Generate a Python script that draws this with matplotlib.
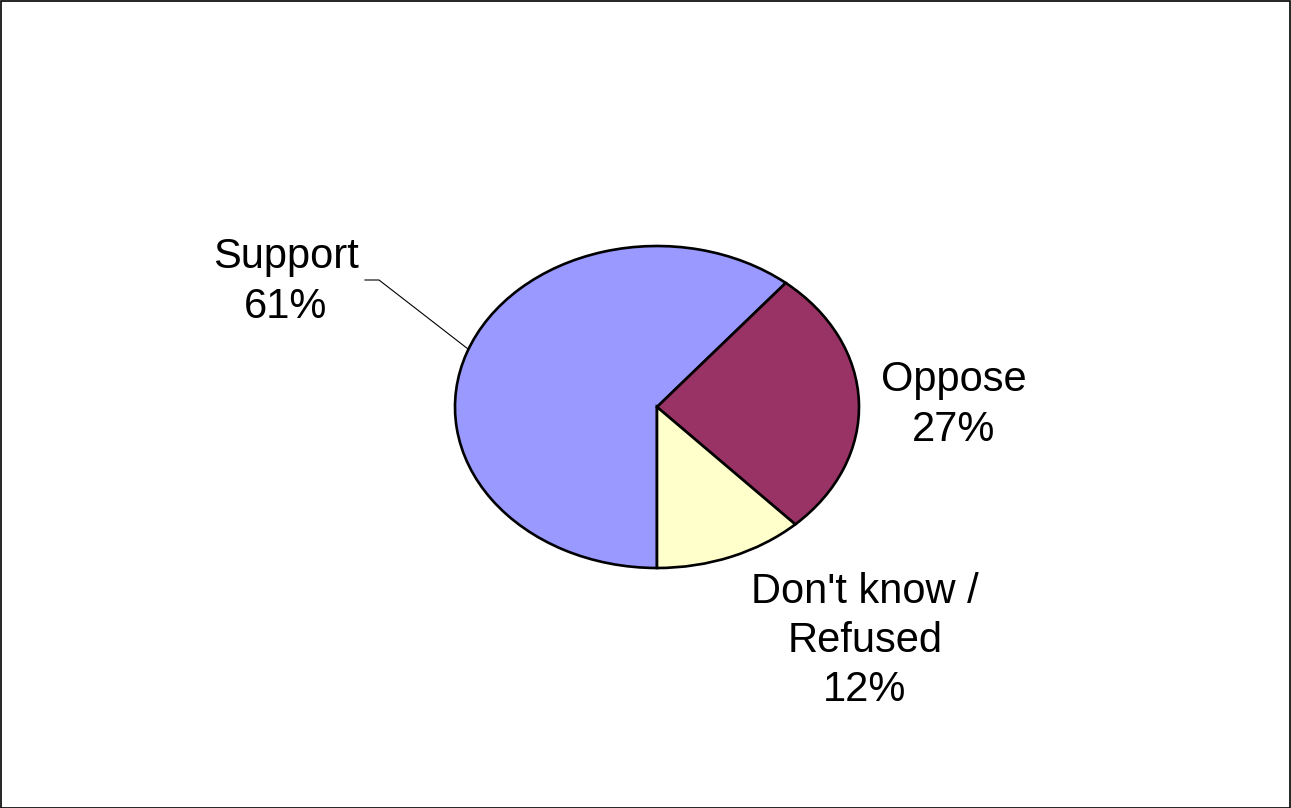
import numpy as np
import matplotlib
matplotlib.use("Agg")
import matplotlib.pyplot as plt
from matplotlib.lines import Line2D
from matplotlib.patches import Rectangle

categories = ["Support", "Oppose", "Don't know /\nRefused"]
values = [61, 27, 12]
colors = ["#9999FF", "#993366", "#FFFFCC"]

W, H = 1291, 808
fig = plt.figure(figsize=(W / 100, H / 100), dpi=100)
plt.rcParams['font.family'] = ['Liberation Sans', 'DejaVu Sans']

# pie bounding box in pixels (top-left origin)
cx, cy, rx, ry = 657, 407, 202, 161
pad = 1.05
ax = fig.add_axes([(cx - rx * pad) / W, (H - cy - ry * pad) / H,
                   2 * rx * pad / W, 2 * ry * pad / H])
wedges, _ = ax.pie(values, colors=colors, startangle=270, counterclock=False,
                   wedgeprops=dict(edgecolor="black", linewidth=1.9))
ax.set_aspect('auto')
ax.set_xlim(-pad, pad)
ax.set_ylim(-pad, pad)
ax.axis('off')

def fpx(x, y):
    return (x / W, (H - y) / H)

fs = 30
labels = [f"{c}\n{v}%" for c, v in zip(categories, values)]
pos = [(286, 282), (954, 405), (865, 641)]
for lab, (x, y) in zip(labels, pos):
    fig.text(*fpx(x, y), lab, ha='center', va='center', fontsize=fs,
             linespacing=1.3, color='black')

# leader line for Support label
ang = np.deg2rad(159)
pt_disp = ax.transData.transform((np.cos(ang), np.sin(ang)))
pt_fig = fig.transFigure.inverted().transform(pt_disp)
x0, y0 = fpx(365, 280)
x1, y1 = fpx(379, 280)
fig.add_artist(Line2D([x0, x1, pt_fig[0]], [y0, y1, pt_fig[1]],
                      color='black', linewidth=0.8, transform=fig.transFigure))

# outer border
fig.add_artist(Rectangle((0.5 / W, 0.5 / H), 1 - 1.5 / W, 1 - 1.5 / H,
                         fill=False, edgecolor='black', linewidth=1.2,
                         transform=fig.transFigure))

fig.savefig("out.png", dpi=100)
